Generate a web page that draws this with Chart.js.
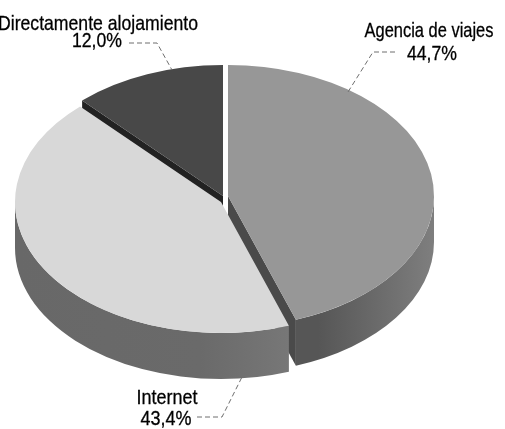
<!DOCTYPE html>
<html><head><meta charset="utf-8">
<script src="https://cdn.jsdelivr.net/npm/chart.js@4.4.1/dist/chart.umd.min.js"></script>
<style>html,body{margin:0;padding:0;background:#fff;overflow:hidden}canvas{display:block}</style>
</head><body>
<canvas id="c" width="505" height="429"></canvas>
<script>
// ---- data ----
const categories = ['Agencia de viajes', 'Internet', 'Directamente alojamiento'];
const shares = [44.7, 43.4, 12.0];
const valueLabels = ['44,7%', '43,4%', '12,0%'];
const topColors = ['#979797', '#d8d8d8', '#484848'];

// ---- 3D look (layout / style) ----
const view = { cx: 222, cy: 197, rx: 206, ry: 131, depth: 46 };
const explode = [[6, -1], [-1, 5], [1, -1]];
const wallStops = [
  [[318, '#565656'], [433, '#7e7e7e']],
  [[15, '#686868'], [200, '#6a6a6a'], [310, '#7a7a7a']],
  [[100, '#232323'], [230, '#232323']]
];
const cutColors = ['#4a4a4a', '#5a5a5a', '#222222'];
const drawOrder = [2, 0, 1];
const labelLayout = [
  { x: [429, 432], y: [37, 60], w: [129, 50], leader: [[395, 52], [373, 52], [348, 92]] },
  { x: [167, 166], y: [404, 425], w: [61, 51], leader: [[197, 417], [222, 417], [242, 377]] },
  { x: [98, 97], y: [30, 47], w: [200, 50], leader: [[129, 43], [157, 43], [172, 70]] }
];

function toSlice(ctx, arc, i) {
  const R = arc.outerRadius;
  ctx.translate(view.cx + explode[i][0], view.cy + explode[i][1]);
  ctx.scale(view.rx / R, view.ry / R);
  ctx.translate(-arc.x, -arc.y);
}

const pie3d = {
  id: 'pie3d',
  beforeDatasetsDraw(chart) {
    const ctx = chart.ctx;
    const arcs = chart.getDatasetMeta(0).data;
    drawOrder.forEach(i => {
      const arc = arcs[i];
      const R = arc.outerRadius;
      const dd = view.depth * R / view.ry;
      const ax = arc.x, ay = arc.y;
      const a0 = arc.startAngle, a1 = arc.endAngle;
      ctx.save();
      toSlice(ctx, arc, i);
      const gx = sx => ax + (sx - (view.cx + explode[i][0])) * R / view.rx;
      const st = wallStops[i];
      const g = ctx.createLinearGradient(gx(st[0][0]), 0, gx(st[st.length - 1][0]), 0);
      const span = st[st.length - 1][0] - st[0][0];
      st.forEach(s => g.addColorStop((s[0] - st[0][0]) / span, s[1]));
      const cut = a => {
        ctx.beginPath();
        ctx.moveTo(ax, ay);
        ctx.lineTo(ax + R * Math.cos(a), ay + R * Math.sin(a));
        ctx.lineTo(ax + R * Math.cos(a), ay + R * Math.sin(a) + dd);
        ctx.lineTo(ax, ay + dd);
        ctx.closePath();
        ctx.fillStyle = cutColors[i];
        ctx.fill();
      };
      if (Math.cos(a0) < -1e-6) cut(a0);
      if (Math.cos(a1) > 1e-6) cut(a1);
      for (let k = -1; k <= 1; k++) {
        const lo = Math.max(a0, 2 * Math.PI * k);
        const hi = Math.min(a1, 2 * Math.PI * k + Math.PI);
        if (hi > lo) {
          ctx.beginPath();
          ctx.arc(ax, ay, R, lo, hi, false);
          ctx.arc(ax, ay + dd, R, hi, lo, true);
          ctx.closePath();
          ctx.fillStyle = g;
          ctx.fill();
        }
      }
      ctx.restore();
    });
    drawOrder.forEach(i => {
      ctx.save();
      toSlice(ctx, arcs[i], i);
      arcs[i].draw(ctx);
      ctx.restore();
    });
    return false;
  },
  afterDraw(chart) {
    const ctx = chart.ctx;
    ctx.save();
    ctx.font = '21px "Liberation Sans Narrow", "Arial Narrow", "Liberation Sans", sans-serif';
    ctx.fillStyle = '#000';
    ctx.strokeStyle = '#000';
    ctx.lineWidth = 0.3;
    ctx.textAlign = 'center';
    ctx.textBaseline = 'alphabetic';
    chart.data.labels.forEach((lab, i) => {
      const L = labelLayout[i];
      [lab, valueLabels[i]].forEach((t, j) => {
        const m = ctx.measureText(t).width;
        ctx.save();
        ctx.translate(L.x[j], L.y[j]);
        ctx.scale(L.w[j] / m, 1);
        ctx.fillText(t, 0, 0);
        ctx.strokeText(t, 0, 0);
        ctx.restore();
      });
    });
    ctx.beginPath();
    ctx.setLineDash([5, 3]);
    ctx.strokeStyle = '#6e6e6e';
    ctx.lineWidth = 1;
    labelLayout.forEach(L => {
      L.leader.forEach((p, k) => k ? ctx.lineTo(p[0], p[1]) : ctx.moveTo(p[0], p[1]));
    });
    ctx.stroke();
    ctx.restore();
  }
};

new Chart(document.getElementById('c'), {
  type: 'pie',
  data: {
    labels: categories,
    datasets: [{ data: shares, backgroundColor: topColors, borderWidth: 0 }]
  },
  options: {
    responsive: false,
    animation: false,
    events: [],
    plugins: { legend: { display: false }, tooltip: { enabled: false } }
  },
  plugins: [pie3d]
});
</script>
</body></html>
